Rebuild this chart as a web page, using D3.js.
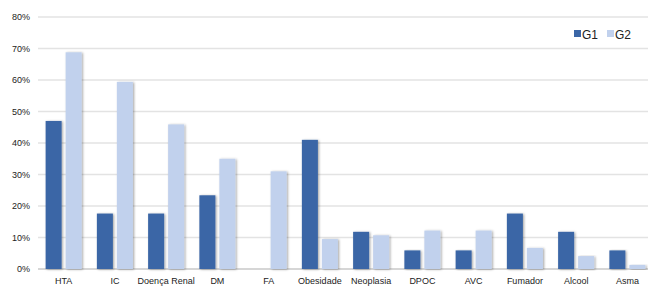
<!DOCTYPE html>
<html>
<head>
<meta charset="utf-8">
<script src="https://cdn.jsdelivr.net/npm/d3@7"></script>
<style>
body { margin: 0; background: #fff; }
text { font-family: "Liberation Sans", Arial, sans-serif; fill: #222; }
</style>
</head>
<body>
<div class="chart"></div>
<script>
var categories = ["HTA", "IC", "Doença Renal", "DM", "FA", "Obesidade", "Neoplasia", "DPOC", "AVC", "Fumador", "Alcool", "Asma"];
var g1 = [47, 17.6, 17.6, 23.4, 0, 41, 11.8, 5.9, 5.9, 17.6, 11.8, 5.9];
var g2 = [68.8, 59.4, 45.9, 35, 31, 9.5, 10.7, 12.2, 12.2, 6.7, 4.1, 1.3];
var series = ["G1", "G2"];
var yTicks = [0, 10, 20, 30, 40, 50, 60, 70, 80];

var colors = { G1: "#3b66a6", G2: "#c1d1ed" };
var width = 648, height = 291;
var margin = { top: 17, right: -5, bottom: 22, left: 38 };
var innerW = width - margin.left - margin.right;
var innerH = height - margin.top - margin.bottom;

var svg = d3.select(".chart")
    .append("svg")
    .attr("width", width)
    .attr("height", height);

var defs = svg.append("defs");
var filt = defs.append("filter").attr("id", "shadow")
    .attr("x", "-20%").attr("y", "-5%").attr("width", "150%").attr("height", "115%");
filt.append("feDropShadow")
    .attr("dx", 1.2).attr("dy", 0.5).attr("stdDeviation", 0.8)
    .attr("flood-color", "#000").attr("flood-opacity", 0.35);

var g = svg.append("g")
    .attr("transform", "translate(" + margin.left + "," + margin.top + ")");

var x = d3.scaleBand()
    .domain(categories)
    .range([0, innerW])
    .paddingInner(0)
    .paddingOuter(0);

var xSub = d3.scaleBand()
    .domain(series)
    .range([x.bandwidth() / 2 - 18, x.bandwidth() / 2 + 18])
    .paddingInner(0.2);

var y = d3.scaleLinear()
    .domain([0, 80])
    .range([innerH, 0]);

// gridlines
g.selectAll(".grid")
    .data(yTicks)
    .enter()
    .append("line")
    .attr("class", "grid")
    .attr("x1", 0)
    .attr("x2", innerW)
    .attr("y1", function (d) { return y(d); })
    .attr("y2", function (d) { return y(d); })
    .attr("stroke", function (d) { return d === 0 ? "#c8c8c8" : "#e3e3e3"; })
    .attr("stroke-width", 1.5);

// y axis labels
var yAxis = d3.axisLeft(y)
    .tickValues(yTicks)
    .tickSize(0)
    .tickPadding(8)
    .tickFormat(function (d) { return d + "%"; });

g.append("g")
    .attr("class", "y_axis")
    .call(yAxis)
    .call(function (s) { s.select(".domain").remove(); })
    .selectAll("text")
    .style("font-size", "9px")
    .style("fill", "#222");

// x axis labels
var xAxis = d3.axisBottom(x).tickSize(0).tickPadding(9);
g.append("g")
    .attr("class", "x_axis")
    .attr("transform", "translate(0," + innerH + ")")
    .call(xAxis)
    .call(function (s) { s.select(".domain").remove(); })
    .selectAll("text")
    .style("font-size", "9px")
    .style("fill", "#222");

// bars
var rows = categories.map(function (c, i) {
    return { cat: c, vals: [{ key: "G1", v: g1[i] }, { key: "G2", v: g2[i] }] };
});

var groups = g.selectAll(".group")
    .data(rows)
    .enter()
    .append("g")
    .attr("class", "group")
    .attr("transform", function (d) { return "translate(" + x(d.cat) + ",0)"; });

groups.selectAll("rect")
    .data(function (d) { return d.vals.filter(function (e) { return e.v > 0; }); })
    .enter()
    .append("rect")
    .attr("x", function (d) { return xSub(d.key); })
    .attr("y", function (d) { return y(d.v); })
    .attr("width", xSub.bandwidth())
    .attr("height", function (d) { return innerH - y(d.v); })
    .attr("filter", "url(#shadow)")
    .style("fill", function (d) { return colors[d.key]; });

// legend
var legend = svg.append("g")
    .attr("transform", "translate(574,35)");

var items = legend.selectAll(".item")
    .data(series)
    .enter()
    .append("g")
    .attr("class", "item")
    .attr("transform", function (d, i) { return "translate(" + (i * 33) + ",0)"; });

items.append("rect")
    .attr("x", 0)
    .attr("y", -5)
    .attr("width", 7)
    .attr("height", 7)
    .style("fill", function (d) { return colors[d]; });

items.append("text")
    .attr("x", 8)
    .attr("y", 4)
    .style("font-size", "12px")
    .text(function (d) { return d; });
</script>
</body>
</html>
